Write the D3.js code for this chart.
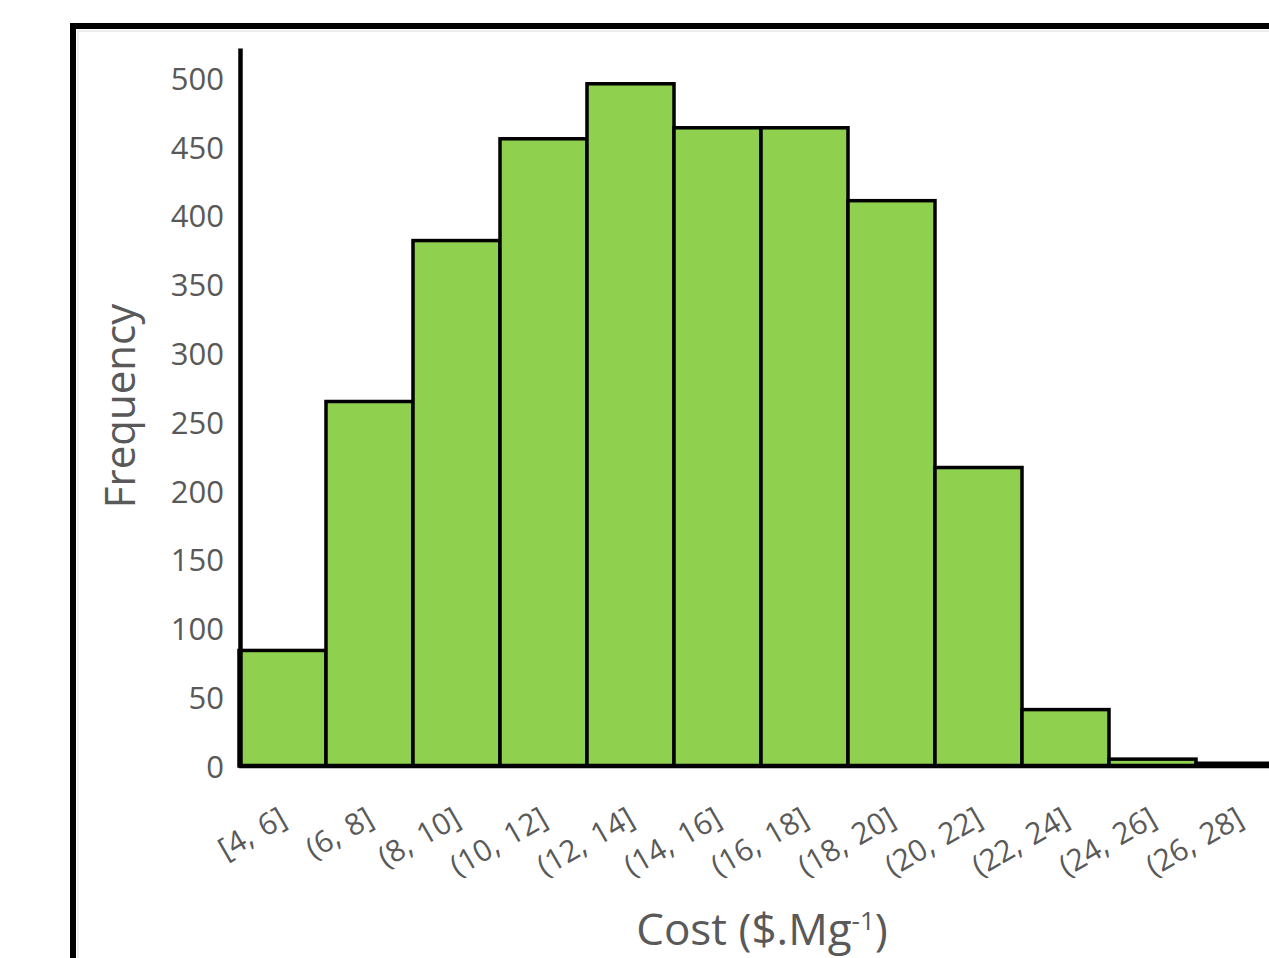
<!DOCTYPE html>
<html>
<head>
<meta charset="utf-8">
<script src="https://cdn.jsdelivr.net/npm/d3@7"></script>
<style>
  html, body { margin: 0; padding: 0; background: #fff; overflow: hidden; }
  svg { display: block; }
</style>
</head>
<body>
<svg id="chart" width="1269" height="958"></svg>
<script>
// ---- data ----
const categories = ["[4, 6]", "(6, 8]", "(8, 10]", "(10, 12]", "(12, 14]", "(14, 16]",
                    "(16, 18]", "(18, 20]", "(20, 22]", "(22, 24]", "(24, 26]", "(26, 28]"];
const frequencies = [84, 265, 382, 456, 496, 464, 464, 411, 217, 41, 5, 2];
const yTicks = [0, 50, 100, 150, 200, 250, 300, 350, 400, 450, 500];
const yLabel = "Frequency";
const xLabelMain = "Cost ($.Mg";
const xLabelSup = "-1";
const xLabelEnd = ")";

// ---- layout ----
const svg = d3.select("#chart");
const font = "'Open Sans', 'DejaVu Sans', sans-serif";
const textColor = "#595959";
const x0 = 239, step = 87, yBase = 766, yTop = 48;

const x = d3.scaleBand()
  .domain(categories)
  .range([x0, x0 + step * categories.length])
  .padding(0);

const y = d3.scaleLinear()
  .domain([0, 522])
  .range([yBase, yTop]);

// outer frame
svg.append("rect")
  .attr("x", 73).attr("y", 26)
  .attr("width", 1400).attr("height", 1200)
  .attr("fill", "none").attr("stroke", "#000").attr("stroke-width", 6);
svg.append("rect")
  .attr("x", 78).attr("y", 31)
  .attr("width", 1400).attr("height", 1200)
  .attr("fill", "none").attr("stroke", "#e6e6e6").attr("stroke-width", 1.5);

// bars
svg.append("g").selectAll("rect")
  .data(frequencies)
  .join("rect")
  .attr("x", (d, i) => x(categories[i]))
  .attr("y", d => y(d))
  .attr("width", x.bandwidth())
  .attr("height", d => yBase - y(d))
  .attr("fill", "#8fd14f")
  .attr("stroke", "#000")
  .attr("stroke-width", 3.5);

// y axis
const gy = svg.append("g")
  .attr("transform", `translate(${x0 + 1},0)`)
  .call(d3.axisLeft(y).tickValues(yTicks).tickSize(0).tickPadding(16));
gy.select(".domain").attr("stroke", "#000").attr("stroke-width", 4.5);
gy.selectAll("text")
  .attr("font-family", font).attr("font-size", 31).attr("fill", textColor)
  .attr("dy", "0.36em");

// x axis
const gx = svg.append("g")
  .attr("transform", `translate(0,${yBase})`)
  .call(d3.axisBottom(x).tickSize(0));
gx.select(".domain").attr("stroke", "#000").attr("stroke-width", 4.5)
  .attr("d", `M${x0},0H1280`);
gx.selectAll("text")
  .attr("font-family", font).attr("font-size", 30).attr("fill", textColor)
  .attr("text-anchor", "end")
  .attr("x", 0).attr("y", 0).attr("dy", 0)
  .attr("word-spacing", 3)
  .attr("transform", "translate(6,58) rotate(-30)");

// y label
svg.append("text")
  .attr("transform", "translate(135,406) rotate(-90)")
  .attr("text-anchor", "middle")
  .attr("font-family", font).attr("font-size", 42).attr("fill", textColor)
  .text(yLabel);

// x label
const xl = svg.append("text")
  .attr("x", 762).attr("y", 945)
  .attr("text-anchor", "middle")
  .attr("font-family", font).attr("font-size", 44).attr("fill", textColor);
xl.append("tspan").text(xLabelMain);
xl.append("tspan").attr("font-size", 26).attr("dy", -15).text(xLabelSup);
xl.append("tspan").attr("dy", 15).text(xLabelEnd);
</script>
</body>
</html>
